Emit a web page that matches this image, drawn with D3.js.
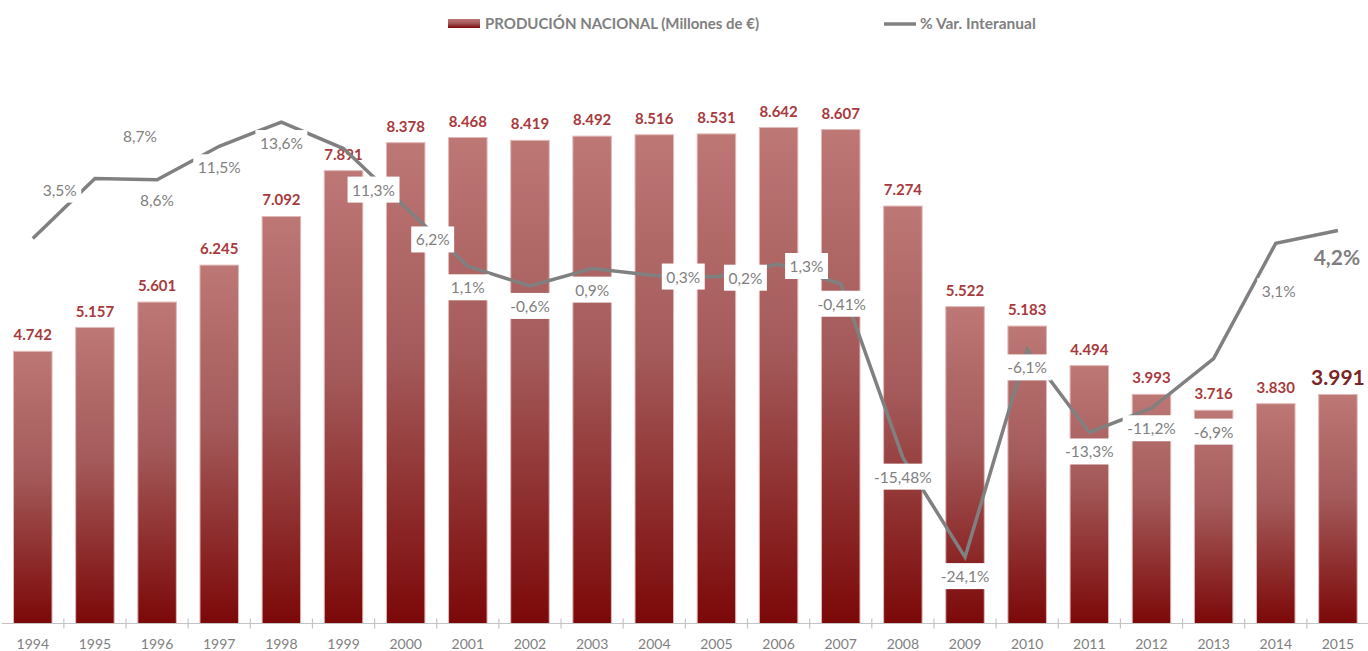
<!DOCTYPE html>
<html>
<head>
<meta charset="utf-8">
<script src="https://cdn.jsdelivr.net/npm/d3@7"></script>
<style>
  html, body { margin: 0; padding: 0; background: #ffffff; }
  svg { display: block; }
</style>
</head>
<body>
<svg id="chart" width="1368" height="651"></svg>
<script>
// ---- DATA ----
const years = ["1994","1995","1996","1997","1998","1999","2000","2001","2002","2003","2004",
               "2005","2006","2007","2008","2009","2010","2011","2012","2013","2014","2015"];
const production = [4742,5157,5601,6245,7092,7891,8378,8468,8419,8492,8516,
                    8531,8642,8607,7274,5522,5183,4494,3993,3716,3830,3991];
const variation = [3.5,8.7,8.6,11.5,13.6,11.3,6.2,1.1,-0.6,0.9,0.3,
                   0.2,1.3,-0.41,-15.48,-24.1,-6.1,-13.3,-11.2,-6.9,3.1,4.2];
const productionLabels = ["4.742","5.157","5.601","6.245","7.092","7.891","8.378","8.468","8.419","8.492","8.516",
                          "8.531","8.642","8.607","7.274","5.522","5.183","4.494","3.993","3.716","3.830","3.991"];
const variationLabels = ["3,5%","8,7%","8,6%","11,5%","13,6%","11,3%","6,2%","1,1%","-0,6%","0,9%","0,3%",
                         "0,2%","1,3%","-0,41%","-15,48%","-24,1%","-6,1%","-13,3%","-11,2%","-6,9%","3,1%","4,2%"];
const legendLabels = ["PRODUCIÓN NACIONAL (Millones de €)", "% Var. Interanual"];

// ---- LAYOUT (label offsets relative to the line point, px) ----
const varLabelDx = [27,45,0,0,0,30,27,0,0,0,29,29,28,1,0,0,0,0,0,0,3,-1];
const varLabelDy = [-49,-43,20,21,21,41,32,21,20,21,1,1,2,20,19,19,18,19,20,73,48,26];

const svg = d3.select("#chart");
const baseY = 623.5;
const fontFam = "Lato, 'Open Sans', 'DejaVu Sans', sans-serif";

const x = d3.scaleBand().domain(years).range([1.7, 1369])
  .paddingInner(0.38).paddingOuter(0.19);
const yBar = d3.scaleLinear().domain([0, 10000]).range([baseY, baseY - 573.9]);
const yLine = d3.scaleLinear().domain([-30, 20]).range([279 + 30 * 11.54, 279 - 20 * 11.54]);

// gradient
const defs = svg.append("defs");
const grad = defs.append("linearGradient").attr("id", "barGrad")
  .attr("x1", 0).attr("y1", 0).attr("x2", 0).attr("y2", 1);
grad.append("stop").attr("offset", "0%").attr("stop-color", "#bd7775");
grad.append("stop").attr("offset", "45%").attr("stop-color", "#a45a5a");
grad.append("stop").attr("offset", "100%").attr("stop-color", "#7c0808");

// bars
svg.append("g").selectAll("rect").data(years).join("rect")
  .attr("x", d => x(d))
  .attr("y", (d, i) => yBar(production[i]))
  .attr("width", x.bandwidth())
  .attr("height", (d, i) => baseY - yBar(production[i]))
  .attr("fill", "url(#barGrad)")
  .attr("stroke", "#e2b9b9")
  .attr("stroke-width", 1);

// axis
const axisG = svg.append("g");
axisG.append("line")
  .attr("x1", 1.7).attr("x2", 1368).attr("y1", baseY).attr("y2", baseY)
  .attr("stroke", "#c4c4c4").attr("stroke-width", 1.2);
const boundaries = d3.range(1, years.length).map(k => 1.7 + k * x.step());
axisG.selectAll("line.tick").data(boundaries).join("line").attr("class", "tick")
  .attr("x1", d => d).attr("x2", d => d)
  .attr("y1", baseY - 5).attr("y2", baseY + 5)
  .attr("stroke", "#c4c4c4").attr("stroke-width", 1.2);
axisG.selectAll("text").data(years).join("text")
  .attr("x", d => x(d) + x.bandwidth() / 2)
  .attr("y", 649)
  .attr("text-anchor", "middle")
  .attr("font-family", fontFam).attr("font-size", 14)
  .attr("fill", "#7f7f7f")
  .text(d => d);

// bar labels
svg.append("g").selectAll("text").data(years).join("text")
  .attr("x", d => x(d) + x.bandwidth() / 2)
  .attr("y", (d, i) => yBar(production[i]) - (i === years.length - 1 ? 9 : 11))
  .attr("text-anchor", "middle")
  .attr("font-family", fontFam)
  .attr("font-weight", "bold")
  .attr("font-size", (d, i) => i === years.length - 1 ? 21 : 15)
  .attr("fill", (d, i) => i === years.length - 1 ? "#7a2427" : "#a83a3d")
  .text((d, i) => productionLabels[i]);

// line
const line = d3.line()
  .x((d, i) => x(years[i]) + x.bandwidth() / 2)
  .y(d => yLine(d));
svg.append("path").datum(variation)
  .attr("d", line)
  .attr("fill", "none")
  .attr("stroke", "#808080")
  .attr("stroke-width", 3.5)
  .attr("stroke-linejoin", "miter");

// variation labels
const lg = svg.append("g");
variation.forEach((v, i) => {
  const cx = x(years[i]) + x.bandwidth() / 2 + varLabelDx[i];
  const cy = yLine(v) + varLabelDy[i];
  const last = i === variation.length - 1;
  const g = lg.append("g");
  const rect = g.append("rect");
  const t = g.append("text")
    .attr("x", cx).attr("y", cy)
    .attr("text-anchor", "middle")
    .attr("dominant-baseline", "central")
    .attr("font-family", fontFam)
    .attr("font-size", last ? 21 : 15.5)
    .attr("font-weight", last ? "bold" : "normal")
    .attr("fill", "#7f7f7f")
    .text(variationLabels[i]);
  if (!last) {
    const w = t.node().getComputedTextLength() + 9;
    rect.attr("x", cx - w / 2).attr("y", cy - 13)
      .attr("width", w).attr("height", 26)
      .attr("fill", "#ffffff");
  } else {
    rect.remove();
  }
});

// legend
const leg = svg.append("g");
leg.append("rect").attr("x", 448).attr("y", 19).attr("width", 32).attr("height", 9)
  .attr("fill", "url(#barGrad)");
leg.append("text").attr("x", 485).attr("y", 29)
  .attr("font-family", fontFam).attr("font-size", 15).attr("font-weight", "bold")
  .attr("fill", "#808080").text(legendLabels[0]);
leg.append("line").attr("x1", 884).attr("x2", 916).attr("y1", 24).attr("y2", 24)
  .attr("stroke", "#808080").attr("stroke-width", 3.5);
leg.append("text").attr("x", 920).attr("y", 29)
  .attr("font-family", fontFam).attr("font-size", 15.5).attr("font-weight", "bold")
  .attr("fill", "#808080").text(legendLabels[1]);
</script>
</body>
</html>
